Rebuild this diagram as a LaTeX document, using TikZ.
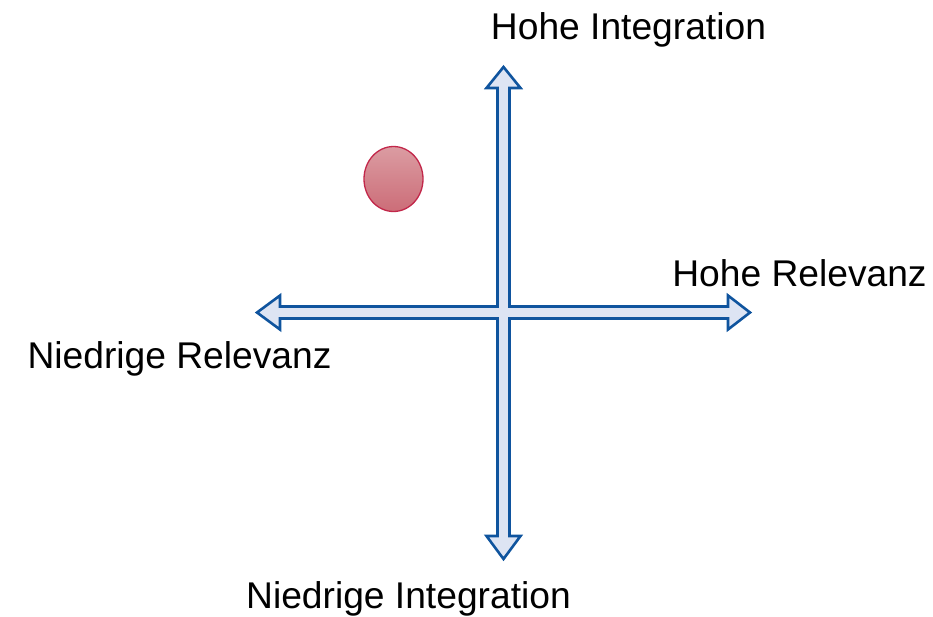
\documentclass[tikz,border=0pt]{standalone}
\usepackage{fontspec}
\setmainfont{Liberation Sans}
\usetikzlibrary{shapes.geometric}
\definecolor{arrowline}{HTML}{0F549E}
\definecolor{arrowfill}{HTML}{DDE4F3}
\definecolor{dotline}{HTML}{C2274A}
\definecolor{dottop}{HTML}{DB9CA2}
\definecolor{dotbot}{HTML}{CC6D78}
\tikzset{
  axislabel/.style={font=\fontsize{37.2}{44}\selectfont, inner sep=0pt, text=black},
  crossarrow/.style={draw=arrowline, fill=arrowfill, line width=2.6pt, line join=miter},
  dot/.style={draw=dotline, line width=1.3pt, top color=dottop, bottom color=dotbot}
}
\begin{document}
\begin{tikzpicture}[x=1pt,y=-1pt]
\useasboundingbox (0,0) rectangle (933,616);
% cross with four arrowheads (center 503.5,312.5)
\def\cx{503.5}\def\cy{312.5}\def\w{6}\def\h{17}
\draw[crossarrow]
  (\cx-\w,\cy-\w) -- (\cx-\w,88) -- (\cx-\h,88) -- (\cx,67) -- (\cx+\h,88) -- (\cx+\w,88)
  -- (\cx+\w,\cy-\w) -- (728,\cy-\w) -- (728,\cy-\h) -- (750,\cy) -- (728,\cy+\h) -- (728,\cy+\w)
  -- (\cx+\w,\cy+\w) -- (\cx+\w,536) -- (\cx+\h,536) -- (\cx,559) -- (\cx-\h,536) -- (\cx-\w,536)
  -- (\cx-\w,\cy+\w) -- (280,\cy+\w) -- (280,\cy+\h) -- (257,\cy) -- (280,\cy-\h) -- (280,\cy-\w)
  -- cycle;
\node[dot, ellipse, minimum width=59pt, minimum height=65pt, inner sep=0pt] (point) at (393.5,179) {};
\node[axislabel] (hi) at (628.5,29.5) {Hohe Integration};
\node[axislabel] (hr) at (799.5,273) {Hohe Relevanz};
\node[axislabel] (nr) at (179.5,358.5) {Niedrige Relevanz};
\node[axislabel] (ni) at (408.5,599) {Niedrige Integration};
\end{tikzpicture}
\end{document}
